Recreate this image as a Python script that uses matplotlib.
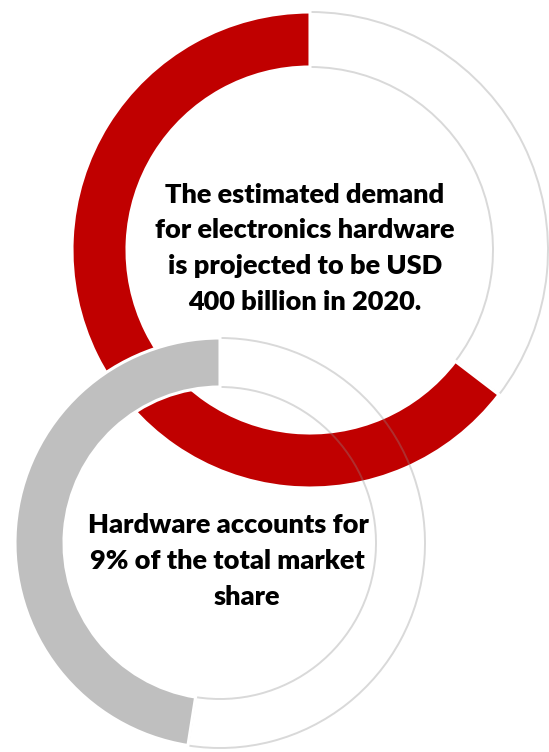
import matplotlib
matplotlib.use('Agg')
import matplotlib.pyplot as plt

plt.rcParams['font.family'] = ['Lato', 'DejaVu Sans']

# top ring: share of the red arc vs. the blank remainder
demand_parts = [64.6, 35.4]
demand_colors = ['#C00000', 'none']
demand_lines = ['The estimated demand',
                'for electronics hardware',
                'is projected to be USD',
                '400 billion in 2020.']

# bottom ring
share_parts = [47.5, 52.5]
share_colors = ['#BFBFBF', 'none']
share_lines = ['Hardware accounts for',
               '9% of the total market',
               'share']

W, H = 549, 752
fig = plt.figure(figsize=(W / 100, H / 100), dpi=100)
ax = fig.add_axes([0, 0, 1, 1])


def ring(parts, colors, center, radius, width, z):
    wedges, _ = ax.pie(parts, colors=colors, startangle=90, counterclock=True,
                       center=center, radius=radius, frame=True,
                       wedgeprops=dict(width=width))
    for w, c in zip(wedges, colors):
        if c == 'none':
            w.set_facecolor('none')
            w.set_edgecolor((0.55, 0.55, 0.55, 0.33))
            w.set_linewidth(1.4)
            w.set_zorder(z)
        else:
            w.set_edgecolor('white')
            w.set_linewidth(2.2)
            w.set_zorder(z + 1)
    return wedges


ring(demand_parts, demand_colors, (310, H - 250), 238, 55, 1)
ring(share_parts, share_colors, (220, H - 543), 205, 49, 3)
ax.set_xlim(0, W)
ax.set_ylim(0, H)
ax.set_aspect('equal')
ax.axis('off')

# text blocks
for i, s in enumerate(demand_lines):
    ax.text(305, H - 195 - i * 35.5, s, ha='center', va='center',
            fontsize=19.5, fontweight='heavy', color='black', zorder=10)

share_x = [228, 227, 247]
for i, s in enumerate(share_lines):
    ax.text(share_x[i], H - 525 - i * 36, s, ha='center', va='center',
            fontsize=19.5, fontweight='heavy', color='black', zorder=10)

fig.savefig('out.png', dpi=100, facecolor='white')
